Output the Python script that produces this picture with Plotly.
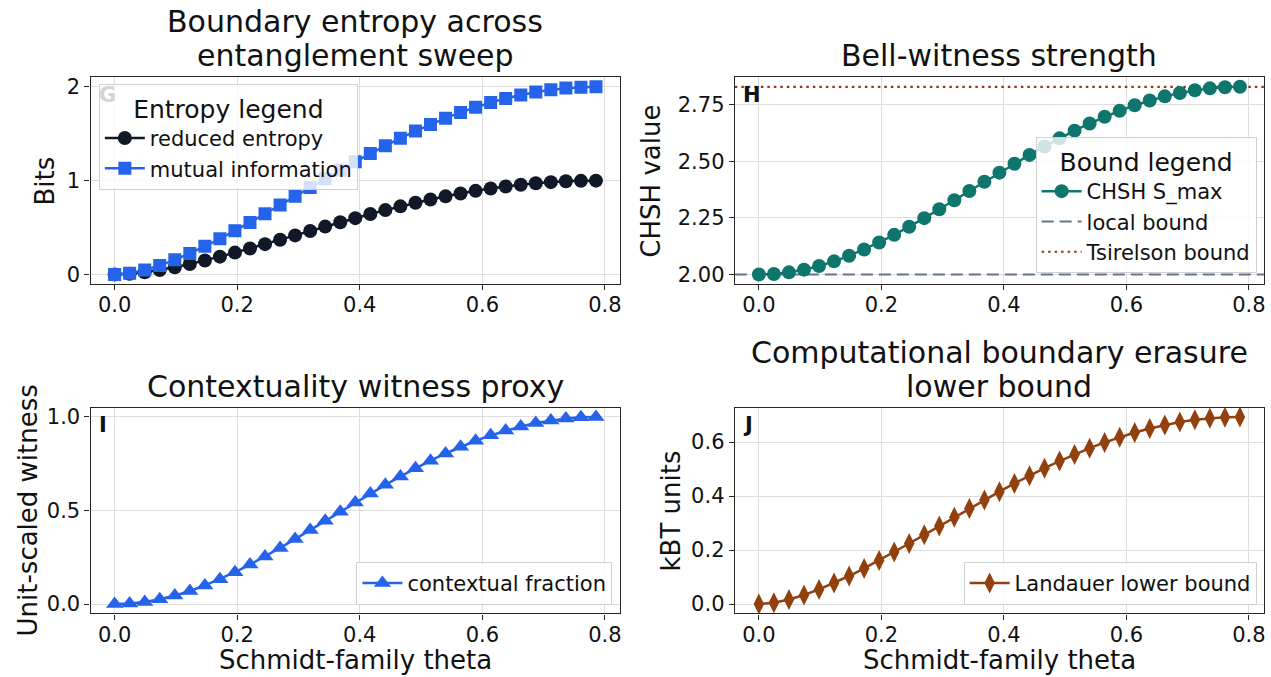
import plotly.graph_objects as go

# ---------------- data ----------------
theta = [0.0, 0.0245, 0.0491, 0.0736, 0.0982, 0.1227, 0.1473, 0.1718, 0.1963, 0.2209,
         0.2454, 0.2700, 0.2945, 0.3191, 0.3436, 0.3682, 0.3927, 0.4172, 0.4418, 0.4663,
         0.4909, 0.5154, 0.5400, 0.5645, 0.5890, 0.6136, 0.6381, 0.6627, 0.6872, 0.7118,
         0.7363, 0.7609, 0.7854]

reduced_entropy = [0.0, 0.0073, 0.0244, 0.0485, 0.0782, 0.1123, 0.1500, 0.1905, 0.2333, 0.2778,
                   0.3236, 0.3701, 0.4170, 0.4640, 0.5104, 0.5562, 0.6009, 0.6444, 0.6862, 0.7262,
                   0.7642, 0.7999, 0.8332, 0.8638, 0.8917, 0.9165, 0.9384, 0.9570, 0.9724, 0.9845,
                   0.9931, 0.9983, 1.0]

mutual_information = [0.0, 0.0146, 0.0488, 0.0970, 0.1564, 0.2246, 0.3000, 0.3810, 0.4666, 0.5556,
                      0.6472, 0.7402, 0.8340, 0.9280, 1.0208, 1.1124, 1.2018, 1.2888, 1.3724, 1.4524,
                      1.5284, 1.5998, 1.6664, 1.7276, 1.7834, 1.8330, 1.8768, 1.9140, 1.9448, 1.9690,
                      1.9862, 1.9966, 2.0]

chsh_smax = [2.0, 2.0024, 2.0096, 2.0214, 2.0377, 2.0582, 2.0826, 2.1105, 2.1414, 2.1751,
             2.2111, 2.2488, 2.2879, 2.3280, 2.3685, 2.4092, 2.4495, 2.4892, 2.5279, 2.5653,
             2.6010, 2.6349, 2.6667, 2.6961, 2.7229, 2.7470, 2.7682, 2.7864, 2.8014, 2.8132,
             2.8216, 2.8267, 2.8284]

local_bound = 2.0
tsirelson_bound = 2.8284

contextual_fraction = [0.0, 0.0029, 0.0116, 0.0259, 0.0455, 0.0702, 0.0997, 0.1333, 0.1707, 0.2114,
                       0.2548, 0.3003, 0.3475, 0.3959, 0.4448, 0.4939, 0.5426, 0.5905, 0.6372, 0.6823,
                       0.7255, 0.7664, 0.8047, 0.8402, 0.8726, 0.9017, 0.9273, 0.9492, 0.9674, 0.9816,
                       0.9918, 0.9979, 1.0]

landauer_bound = [0.0, 0.0051, 0.0169, 0.0336, 0.0542, 0.0778, 0.1040, 0.1320, 0.1617, 0.1926,
                  0.2243, 0.2565, 0.2890, 0.3216, 0.3538, 0.3855, 0.4165, 0.4467, 0.4756, 0.5034,
                  0.5297, 0.5544, 0.5775, 0.5987, 0.6181, 0.6353, 0.6504, 0.6633, 0.6740, 0.6824,
                  0.6884, 0.6920, 0.6931]

x_ticks = [0.0, 0.2, 0.4, 0.6, 0.8]
x_ticklabels = ["0.0", "0.2", "0.4", "0.6", "0.8"]
y1_ticks = [0, 1, 2]
y1_ticklabels = ["0", "1", "2"]
y2_ticks = [2.00, 2.25, 2.50, 2.75]
y2_ticklabels = ["2.00", "2.25", "2.50", "2.75"]
y3_ticks = [0.0, 0.5, 1.0]
y3_ticklabels = ["0.0", "0.5", "1.0"]
y4_ticks = [0.0, 0.2, 0.4, 0.6]
y4_ticklabels = ["0.0", "0.2", "0.4", "0.6"]

# ---------------- style ----------------
W, H = 1271, 677
FONT = "DejaVu Sans"
C_DARK = "#111827"
C_BLUE = "#2563eb"
C_TEAL = "#0f766e"
C_SLATE = "#64748b"
C_RUST = "#9a3412"
C_BROWN = "#92400e"


def pad_range(vals, frac=0.05):
    lo, hi = min(vals), max(vals)
    d = (hi - lo) * frac
    return [lo - d, hi + d]


def px_x(v):
    return v / W


def px_y(v):
    return 1 - v / H


dom_x_left = [px_x(90.7), px_x(621)]
dom_x_right = [px_x(736), px_x(1266)]
dom_y_top = [px_y(284), px_y(76)]
dom_y_bot = [px_y(616), px_y(408.6)]

xr = pad_range(theta)

fig = go.Figure()

LW = 2.5
# panel G
fig.add_trace(go.Scatter(x=theta, y=reduced_entropy, mode="lines+markers", name="reduced entropy",
                         line=dict(color=C_DARK, width=LW), marker=dict(symbol="circle", size=14, color=C_DARK),
                         xaxis="x", yaxis="y", legend="legend"))
fig.add_trace(go.Scatter(x=theta, y=mutual_information, mode="lines+markers", name="mutual information",
                         line=dict(color=C_BLUE, width=LW), marker=dict(symbol="square", size=13, color=C_BLUE),
                         xaxis="x", yaxis="y", legend="legend"))

# panel H (bounds drawn first so they sit under the markers)
fig.add_trace(go.Scatter(x=xr, y=[local_bound, local_bound], mode="lines", name="local bound",
                         line=dict(color=C_SLATE, width=2, dash="12px,6px"),
                         xaxis="x2", yaxis="y2", legend="legend2", legendrank=2))
fig.add_trace(go.Scatter(x=xr, y=[tsirelson_bound, tsirelson_bound], mode="lines", name="Tsirelson bound",
                         line=dict(color=C_RUST, width=2.2, dash="2.5px,4px"),
                         xaxis="x2", yaxis="y2", legend="legend2", legendrank=3))
fig.add_trace(go.Scatter(x=theta, y=chsh_smax, mode="lines+markers", name="CHSH S_max",
                         line=dict(color=C_TEAL, width=LW), marker=dict(symbol="circle", size=14, color=C_TEAL),
                         xaxis="x2", yaxis="y2", legend="legend2", legendrank=1))

# panel I
fig.add_trace(go.Scatter(x=theta, y=contextual_fraction, mode="lines+markers", name="contextual fraction",
                         line=dict(color=C_BLUE, width=LW), marker=dict(symbol="triangle-up", size=15, color=C_BLUE),
                         xaxis="x3", yaxis="y3", legend="legend3"))

# panel J
fig.add_trace(go.Scatter(x=theta, y=landauer_bound, mode="lines+markers", name="Landauer lower bound",
                         line=dict(color=C_BROWN, width=LW), marker=dict(symbol="diamond-tall", size=15, color=C_BROWN),
                         xaxis="x4", yaxis="y4", legend="legend4"))

axis_common = dict(showline=True, mirror=True, linecolor="#262626", linewidth=1.25,
                   ticks="outside", ticklen=5, tickwidth=1.25, tickcolor="#262626",
                   showgrid=True, gridcolor="#dedede", gridwidth=1, zeroline=False,
                   tickfont=dict(family=FONT, size=21, color="#111111"))
xaxis_extra = dict(ticklabelstandoff=-3)

y_all = [(reduced_entropy + mutual_information), (chsh_smax + [local_bound, tsirelson_bound]),
         contextual_fraction, landauer_bound]

fig.update_layout(
    width=W, height=H, margin=dict(l=0, r=0, t=0, b=0),
    paper_bgcolor="white", plot_bgcolor="white",
    font=dict(family=FONT, color="#111111"),
    xaxis=dict(domain=dom_x_left, anchor="y", range=xr, tickvals=x_ticks, ticktext=x_ticklabels, **axis_common, **xaxis_extra),
    yaxis=dict(domain=dom_y_top, anchor="x", range=pad_range(y_all[0]), tickvals=y1_ticks, ticktext=y1_ticklabels, **axis_common),
    xaxis2=dict(domain=dom_x_right, anchor="y2", range=xr, tickvals=x_ticks, ticktext=x_ticklabels, **axis_common, **xaxis_extra),
    yaxis2=dict(domain=dom_y_top, anchor="x2", range=pad_range(y_all[1]), tickvals=y2_ticks, ticktext=y2_ticklabels, **axis_common),
    xaxis3=dict(domain=dom_x_left, anchor="y3", range=xr, tickvals=x_ticks, ticktext=x_ticklabels, **axis_common, **xaxis_extra),
    yaxis3=dict(domain=dom_y_bot, anchor="x3", range=pad_range(y_all[2]), tickvals=y3_ticks, ticktext=y3_ticklabels, **axis_common),
    xaxis4=dict(domain=dom_x_right, anchor="y4", range=xr, tickvals=x_ticks, ticktext=x_ticklabels, **axis_common, **xaxis_extra),
    yaxis4=dict(domain=dom_y_bot, anchor="x4", range=pad_range(y_all[3]), tickvals=y4_ticks, ticktext=y4_ticklabels, **axis_common),
)

leg_common = dict(bgcolor="rgba(255,255,255,0.8)", bordercolor="#d0d0d0", borderwidth=1,
                  font=dict(family=FONT, size=21, color="#111111"), itemwidth=40,
                  tracegroupgap=0)

fig.update_layout(
    legend=dict(x=px_x(99), y=px_y(83), xanchor="left", yanchor="top",
                title=dict(text="Entropy legend", side="top center", font=dict(family=FONT, size=25)),
                **leg_common),
    legend2=dict(x=px_x(1258.6), y=px_y(273.5), xanchor="right", yanchor="bottom",
                 title=dict(text="Bound legend", side="top center", font=dict(family=FONT, size=25)),
                 traceorder="normal", **leg_common),
    legend3=dict(x=px_x(613.4), y=px_y(607.3), xanchor="right", yanchor="bottom", **leg_common),
    legend4=dict(x=px_x(1258.6), y=px_y(607.3), xanchor="right", yanchor="bottom", **leg_common),
)

ann = []
TITLE_SIZE = 30
LINE_GAP = 34
# subplot titles (each line placed separately to match the tighter line spacing)
for lines, dx, dy in [(["Boundary entropy across", "entanglement sweep"], dom_x_left, dom_y_top),
                      (["Bell-witness strength"], dom_x_right, dom_y_top),
                      (["Contextuality witness proxy"], dom_x_left, dom_y_bot),
                      (["Computational boundary erasure", "lower bound"], dom_x_right, dom_y_bot)]:
    n = len(lines)
    for i, text in enumerate(lines):
        ann.append(dict(text=text, x=(dx[0] + dx[1]) / 2, y=dy[1], xref="paper", yref="paper",
                        xanchor="center", yanchor="bottom", yshift=2 + (n - 1 - i) * LINE_GAP, showarrow=False,
                        font=dict(family=FONT, size=TITLE_SIZE, color="#111111")))

# axis titles
AX = 26
for text, x, y in [("Bits", px_x(45), (dom_y_top[0] + dom_y_top[1]) / 2),
                   ("CHSH value", px_x(652), (dom_y_top[0] + dom_y_top[1]) / 2),
                   ("Unit-scaled witness", px_x(28), (dom_y_bot[0] + dom_y_bot[1]) / 2),
                   ("kBT units", px_x(672), (dom_y_bot[0] + dom_y_bot[1]) / 2)]:
    ann.append(dict(text=text, x=x, y=y, xref="paper", yref="paper", textangle=-90,
                    xanchor="center", yanchor="middle", showarrow=False,
                    font=dict(family=FONT, size=AX, color="#111111")))
for dx in (dom_x_left, dom_x_right):
    ann.append(dict(text="Schmidt-family theta", x=(dx[0] + dx[1]) / 2, y=px_y(663),
                    xref="paper", yref="paper", xanchor="center", yanchor="middle", showarrow=False,
                    font=dict(family=FONT, size=AX, color="#111111")))

# panel letters
for letter, xa, col in [("G", "x", "#d4d4d4"), ("H", "x2", "#111111"), ("I", "x3", "#111111"), ("J", "x4", "#111111")]:
    ya = "y" + xa[1:]
    ann.append(dict(text="<b>%s</b>" % letter, x=0.012, y=0.985, xref=xa + " domain", yref=ya + " domain",
                    xanchor="left", yanchor="top", showarrow=False,
                    font=dict(family=FONT, size=21, color=col)))

fig.update_layout(annotations=ann)

fig.write_html("out.html")
